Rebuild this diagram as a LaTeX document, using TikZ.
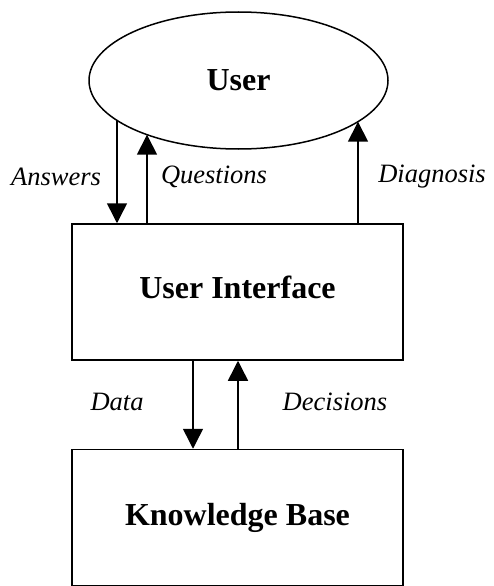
\documentclass[tikz,border=0pt]{standalone}
\usepackage{fontspec}
\setmainfont{Liberation Serif}
\usetikzlibrary{shapes.geometric,arrows.meta}

\begin{document}
\begin{tikzpicture}[x=1pt,y=-1pt,line width=1.5pt,
    block/.style={rectangle,draw,minimum width=331pt,minimum height=136pt,inner sep=0pt,font=\fontsize{32}{38}\selectfont\bfseries},
    lbl/.style={font=\fontsize{26.5}{31}\selectfont\itshape},
    flow/.style={-{Triangle[length=20pt,width=20pt]}}]
            \useasboundingbox (0,0) rectangle (493,586);
            \node [ellipse,draw,minimum width=299pt,minimum height=137pt,inner sep=0pt,font=\fontsize{32}{38}\selectfont\bfseries] (user) at (238.5,80.5) {User};
            \node [block,text depth=10pt] (ui) at (237.5,292) {User Interface};
            \node [block,text depth=6pt] (kb) at (237.5,517.5) {Knowledge Base};
            \node [lbl] (ans) at (56,177) {Answers};
            \node [lbl] (qst) at (214,177) {Questions};
            \node [lbl] (diag) at (432,177) {Diagnosis};
            \node [lbl] (data) at (117,402) {Data};
            \node [lbl] (dec) at (335,402) {Decisions};
            \coordinate (ansend) at (117,120.4);
            \coordinate (qstend) at (147,134.7);
            \coordinate (diagend) at (358,121.7);
            \coordinate (datax) at (193,0);
            \coordinate (decx) at (238,0);

            \path[flow]
            (ansend) edge (ansend |- ui.north)
            (qstend |- ui.north) edge (qstend)
            (diagend |- ui.north) edge (diagend)
            (datax |- ui.south) edge (datax |- kb.north)
            (decx |- kb.north) edge (decx |- ui.south)
            ;

        \end{tikzpicture}
\end{document}
